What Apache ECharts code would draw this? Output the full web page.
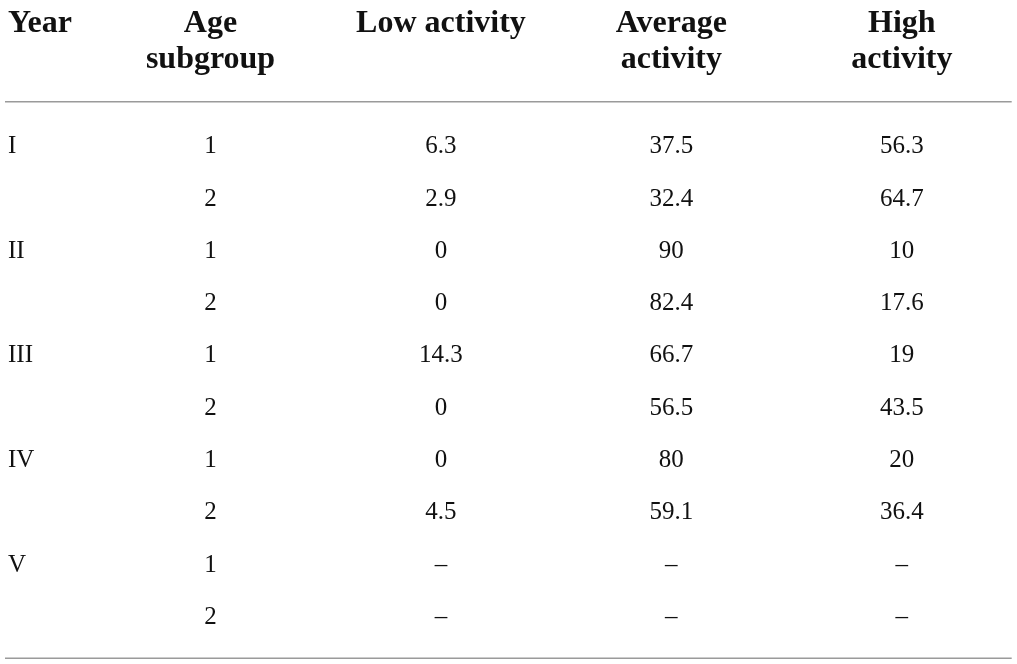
<!DOCTYPE html>
<html>
<head>
<meta charset="utf-8">
<script src="https://cdn.jsdelivr.net/npm/echarts@6/dist/echarts.min.js"></script>
<style>html,body{margin:0;padding:0;background:#fff;}#c{width:1017px;height:664px;}</style>
</head>
<body>
<div id="c"></div>
<script>
var yearHeader = 'Year';
var columnHeaders = ['Age\nsubgroup', 'Low activity\n ', 'Average\nactivity', 'High\nactivity'];
var years = ['I', '', 'II', '', 'III', '', 'IV', '', 'V', ''];
var ageSubgroup = [1, 2, 1, 2, 1, 2, 1, 2, 1, 2];
var lowActivity = [6.3, 2.9, 0, 0, 14.3, 0, 0, 4.5, null, null];
var averageActivity = [37.5, 32.4, 90, 82.4, 66.7, 56.5, 80, 59.1, null, null];
var highActivity = [56.3, 64.7, 10, 17.6, 19, 43.5, 20, 36.4, null, null];

var columns = [ageSubgroup, lowActivity, averageActivity, highActivity];

var serifFont = '"Liberation Serif", "Times New Roman", serif';
var series = columns.map(function (col, ci) {
  return {
    type: 'scatter',
    symbolSize: 0,
    itemStyle: { color: '#111', opacity: 1 },
    silent: true,
    data: col.map(function (v, ri) {
      return { value: [ci, ri], disp: (v === null || v === undefined) ? '\u2013' : String(v) };
    }),
    label: {
      show: true,
      position: 'inside',
      formatter: function (p) { return p.data.disp; },
      color: '#111',
      opacity: 1,
      textBorderWidth: 0,
      fontFamily: serifFont,
      fontSize: 25
    }
  };
});

var chart = echarts.init(document.getElementById('c'), null, { renderer: 'canvas' });
chart.setOption({
  animation: false,
  backgroundColor: '#fff',
  title: {
    text: yearHeader,
    left: 3,
    top: 1,
    textStyle: { fontFamily: serifFont, fontWeight: 'bold', fontSize: 32, lineHeight: 36, color: '#111' }
  },
  grid: { left: 95.3, right: -11.7, top: 120.5, bottom: 20.5 },
  xAxis: {
    type: 'category',
    position: 'top',
    data: columnHeaders,
    boundaryGap: true,
    axisLine: { show: false },
    axisTick: { show: false },
    splitLine: { show: false },
    axisLabel: {
      interval: 0,
      margin: 43,
      fontFamily: serifFont,
      fontWeight: 'bold',
      fontSize: 32,
      lineHeight: 36,
      color: '#111'
    }
  },
  yAxis: {
    type: 'category',
    inverse: true,
    data: years,
    boundaryGap: true,
    axisLine: { show: false },
    axisTick: { show: false },
    splitLine: { show: false },
    axisLabel: {
      interval: 0,
      align: 'left',
      margin: 87.3,
      fontFamily: serifFont,
      fontSize: 25,
      color: '#111'
    }
  },
  graphic: [
    { type: 'line', shape: { x1: 5, y1: 101.7, x2: 1011.7, y2: 101.7 }, style: { stroke: '#9a9a9a', lineWidth: 1.5 } },
    { type: 'line', shape: { x1: 5, y1: 658.3, x2: 1011.7, y2: 658.3 }, style: { stroke: '#9a9a9a', lineWidth: 1.5 } }
  ],
  series: series
});
</script>
</body>
</html>
